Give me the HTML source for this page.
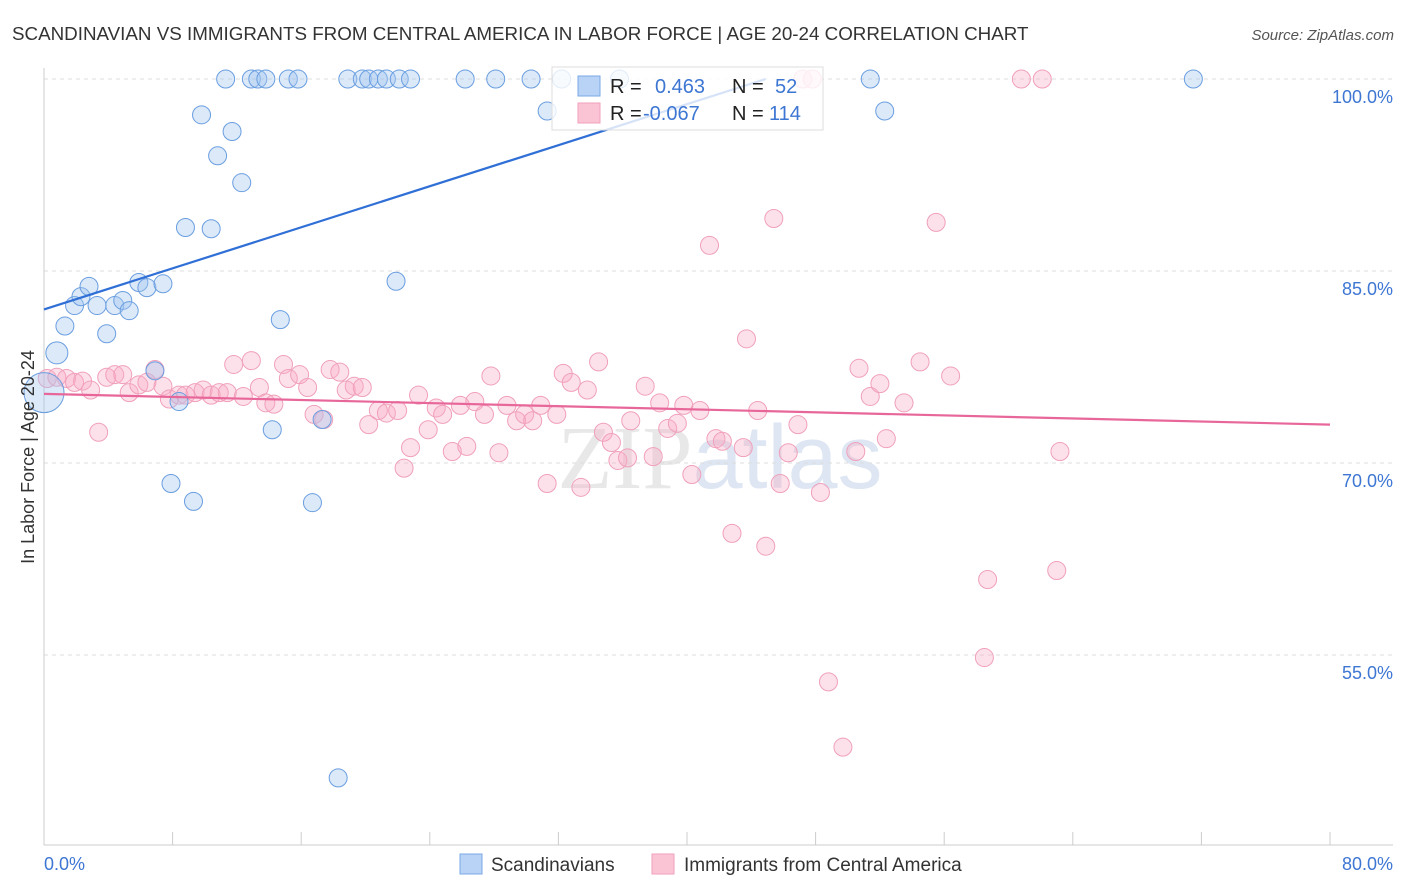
<!DOCTYPE html>
<html><head><meta charset="utf-8"><style>
body{margin:0;background:#fff;font-family:"Liberation Sans",sans-serif}
svg{display:block}
</style></head><body>
<svg id="chart" width="1406" height="892" xmlns="http://www.w3.org/2000/svg">
<text x="12" y="40" font-size="18.8" fill="#333">SCANDINAVIAN VS IMMIGRANTS FROM CENTRAL AMERICA IN LABOR FORCE | AGE 20-24 CORRELATION CHART</text>
<text x="1394" y="40" font-size="15" fill="#555" font-style="italic" text-anchor="end">Source: ZipAtlas.com</text>
<text x="720" y="488" font-size="90" fill="#e8e8e8" text-anchor="middle" font-family="Liberation Serif,serif">ZIP<tspan fill="#dde6f2" font-family="Liberation Sans,sans-serif">atlas</tspan></text>
<g id="grid"></g>
<g id="axes"></g>
<g id="marks"></g>
<text transform="translate(34,457) rotate(-90)" font-size="18" fill="#333" text-anchor="middle">In Labor Force | Age 20-24</text>
<g>
<rect x="552" y="67" width="271" height="63" fill="#fff" fill-opacity="0.8" stroke="#ddd"/>
<rect x="578" y="76" width="22" height="20" fill="#b8d3f5" stroke="#7aa8e6"/>
<rect x="578" y="103" width="22" height="20" fill="#fac4d4" stroke="#f0a0bb"/>
<text x="610" y="93" font-size="20" fill="#222">R = </text><text x="655" y="93" font-size="20" fill="#3d76d3">0.463</text>
<text x="732" y="93" font-size="20" fill="#222">N = </text><text x="775" y="93" font-size="20" fill="#3d76d3">52</text>
<text x="610" y="120" font-size="20" fill="#222">R = </text><text x="643" y="120" font-size="20" fill="#3d76d3">-0.067</text>
<text x="732" y="120" font-size="20" fill="#222">N = </text><text x="769" y="120" font-size="20" fill="#3d76d3">114</text>
</g>
<g>
<rect x="460" y="854" width="22" height="20" fill="#b8d3f5" stroke="#7aa8e6"/>
<text x="491" y="871" font-size="19" fill="#333">Scandinavians</text>
<rect x="652" y="854" width="22" height="20" fill="#fac4d4" stroke="#f0a0bb"/>
<text x="684" y="871" font-size="19" fill="#333">Immigrants from Central America</text>
</g>
</svg>
<script>
const xTickLabels=["0.0%","80.0%"];
const yTicks=[55,70,85,100];
const blueX=[0,0.8,1.3,1.9,2.3,2.8,3.3,3.9,4.4,4.9,5.3,5.9,6.4,6.9,7.4,7.9,8.4,8.8,9.3,9.8,10.4,10.8,11.3,11.7,12.3,12.9,13.3,13.8,15.2,15.8,14.2,14.7,16.7,17.3,18.3,18.9,19.8,20.2,20.8,21.3,22.1,22.8,21.9,26.2,28.1,30.3,31.3,32.2,35.8,51.4,52.3,71.5];
const blueY=[75.5,78.6,80.7,82.3,83.0,83.8,82.3,80.1,82.3,82.7,81.9,84.1,83.7,77.2,84.0,68.4,74.8,88.4,67.0,97.2,88.3,94.0,100,95.9,91.9,100,100,100,100,100,72.6,81.2,66.9,73.4,45.4,100,100,100,100,100,100,100,84.2,100,100,100,97.5,100,100,100,97.5,100];
const pinkX=[0.2,0.8,1.4,1.9,2.4,2.9,3.4,3.9,4.4,4.9,5.3,5.9,6.4,6.9,7.4,7.8,8.4,8.8,9.4,9.9,10.4,10.9,11.4,11.8,12.4,12.9,13.4,13.8,14.3,14.9,15.2,15.9,16.4,16.8,17.4,17.8,18.4,18.8,19.3,19.8,20.2,20.8,21.3,22.0,22.4,22.8,23.3,23.9,24.4,24.8,25.4,25.9,26.3,26.8,27.4,27.8,28.3,28.8,29.4,29.9,30.4,30.9,31.3,31.9,32.3,32.8,33.4,33.8,34.5,34.8,35.3,35.7,36.3,36.5,37.4,37.9,38.3,38.8,39.4,39.8,40.3,40.8,41.4,41.8,42.2,42.8,43.5,43.7,44.4,44.9,45.4,45.8,46.3,46.9,48.3,48.8,49.7,50.5,50.7,51.4,52.0,52.4,53.5,54.5,55.5,56.4,58.5,58.7,60.8,62.1,63.0,63.2,47.2,47.8];
const pinkY=[76.6,76.7,76.6,76.3,76.4,75.7,72.4,76.7,76.9,76.9,75.5,76.1,76.3,77.3,76.0,75.0,75.3,75.3,75.5,75.7,75.3,75.5,75.5,77.7,75.2,78.0,75.9,74.7,74.6,77.7,76.6,76.9,75.9,73.8,73.4,77.3,77.1,75.7,76.0,75.9,73.0,74.1,73.9,74.1,69.6,71.2,75.3,72.6,74.3,73.8,70.9,74.5,71.3,74.8,73.8,76.8,70.8,74.5,73.3,73.8,73.3,74.5,68.4,73.8,77.0,76.3,68.1,75.7,77.9,72.4,71.6,70.2,70.4,73.3,76.0,70.5,74.7,72.7,73.1,74.5,69.1,74.1,87.0,71.9,71.7,64.5,71.2,79.7,74.1,63.5,89.1,68.4,70.8,73.0,67.7,52.9,47.8,70.9,77.4,75.2,76.2,71.9,74.7,77.9,88.8,76.8,54.8,60.9,100,100,61.6,70.9,100,100];
const blueTrend=[[0,82.0],[44.9,100]];
const pinkTrend=[[0,75.4],[80,73.0]];
const NS="http://www.w3.org/2000/svg";
const xs=v=>44+v/80*1286;
const ys=v=>79+(100-v)*12.8;
function mk(tag,attrs,parent){const e=document.createElementNS(NS,tag);for(const k in attrs)e.setAttribute(k,attrs[k]);parent.appendChild(e);return e;}
const grid=document.getElementById('grid'),axes=document.getElementById('axes'),marks=document.getElementById('marks');
yTicks.forEach(t=>{
 const l=mk('line',{x1:44,x2:1393,y1:ys(t),y2:ys(t),stroke:'#ddd','stroke-dasharray':'4,4'},grid);
 
 
 const tx=mk('text',{x:1393,y:ys(t)+24,'font-size':18,fill:'#3d76d3','text-anchor':'end'},axes);
 tx.textContent=t.toFixed(1)+'%';
 
 
});
const ax=mk('line',{x1:44,x2:1393,y1:845,y2:845,stroke:'#ccc'},axes);


const ay=mk('line',{x1:44,x2:44,y1:68,y2:845,stroke:'#ccc'},axes);


for(let i=0;i<=10;i++){const t=mk('line',{x1:xs(i*8),x2:xs(i*8),y1:832,y2:845,stroke:'#ccc'},axes);
 
 }
[[0,'start'],[80,'end']].forEach((p,i)=>{const t=mk('text',{x:p[0]===0?44:1393,y:870,'font-size':18,fill:'#3d76d3','text-anchor':p[1]},axes);
 t.textContent=xTickLabels[i];
 
 });
pinkX.forEach((x,i)=>{const c=mk('circle',{cx:xs(x),cy:ys(pinkY[i]),r:9,fill:'rgba(248,170,195,0.35)',stroke:'#f0a0bb','stroke-width':1},marks);
 
 });
blueX.forEach((x,i)=>{const c=mk('circle',{cx:xs(x),cy:ys(blueY[i]),r:i===0?20:(i===1?11:9),fill:'rgba(160,196,240,0.38)',stroke:'#6a9ee0','stroke-width':1},marks);
 
 });
const bt=mk('line',{x1:xs(blueTrend[0][0]),y1:ys(blueTrend[0][1]),x2:xs(blueTrend[1][0]),y2:ys(blueTrend[1][1]),stroke:'#2f6fd6','stroke-width':2.2},marks);


const pt=mk('line',{x1:xs(pinkTrend[0][0]),y1:ys(pinkTrend[0][1]),x2:xs(pinkTrend[1][0]),y2:ys(pinkTrend[1][1]),stroke:'#e8679a','stroke-width':2.2},marks);


</script>
</body></html>
